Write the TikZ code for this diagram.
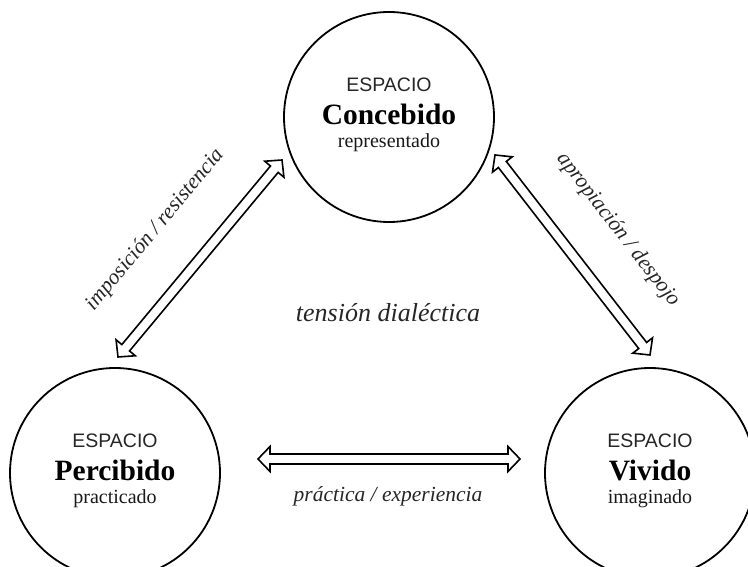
\documentclass[tikz,border=0pt]{standalone}
\usepackage{fontspec}
\setmainfont{Liberation Serif}
\setsansfont{Liberation Sans}
\usetikzlibrary{calc}
\tikzset{
  espacio/.style={circle, draw, line width=1.8pt, minimum size=210pt, inner sep=0pt},
  dblarr/.style={draw, fill=white, line width=1.6pt, line join=miter},
  kw/.style={font=\fontsize{19.5}{22}\selectfont\sffamily, text=black!85, anchor=base, inner sep=0pt},
  big/.style={font=\fontsize{29.5}{32}\selectfont\bfseries, anchor=base, inner sep=0pt},
  sub/.style={font=\fontsize{20}{22}\selectfont, text=black!90, anchor=base, inner sep=0pt},
  lbl/.style={font=\fontsize{21.5}{24}\selectfont\itshape, text=black!85, inner sep=0pt},
  mid/.style={font=\fontsize{26}{28}\selectfont\itshape, text=black!85, anchor=base, inner sep=0pt}
}
\newcommand\DblArrow[2]{%
 \draw[dblarr] (#1)
  -- ($(#1)!12pt!(#2)!12.5pt!90:(#2)$)
  -- ($(#1)!12pt!(#2)!5pt!90:(#2)$)
  -- ($(#2)!12pt!(#1)!5pt!-90:(#1)$)
  -- ($(#2)!12pt!(#1)!12.5pt!-90:(#1)$)
  -- (#2)
  -- ($(#2)!12pt!(#1)!12.5pt!90:(#1)$)
  -- ($(#2)!12pt!(#1)!5pt!90:(#1)$)
  -- ($(#1)!12pt!(#2)!5pt!-90:(#2)$)
  -- ($(#1)!12pt!(#2)!12.5pt!-90:(#2)$)
  -- cycle;}
\begin{document}
\begin{tikzpicture}[x=1pt,y=1pt]
\fill[white] (0,0) rectangle (748,567);
\useasboundingbox (0,0) rectangle (748,567);
\clip (0,0) rectangle (748,567);
% circles
\node[espacio] (C) at (389,450) {};
\node[espacio] (P) at (115,94) {};
\node[espacio] (V) at (650,94) {};
% texts
\node[kw]  (Ck) at ($(C.center)+(0,25)$) {ESPACIO};
\node[big] (Cb) at ($(C.center)+(0,-8)$) {Concebido};
\node[sub] (Cs) at ($(C.center)+(0,-31)$) {representado};
\node[kw]  (Pk) at ($(P.center)+(0,25)$) {ESPACIO};
\node[big] (Pb) at ($(P.center)+(0,-8)$) {Percibido};
\node[sub] (Ps) at ($(P.center)+(0,-31)$) {practicado};
\node[kw]  (Vk) at ($(V.center)+(0,25)$) {ESPACIO};
\node[big] (Vb) at ($(V.center)+(0,-8)$) {Vivido};
\node[sub] (Vs) at ($(V.center)+(0,-31)$) {imaginado};
% arrow end points
\coordinate (a1) at ($(C.center)+(-107,-43)$);
\coordinate (a2) at ($(P.center)+(3,116)$);
\coordinate (b1) at ($(C.center)+(106,-38)$);
\coordinate (b2) at ($(V.center)+(0,118)$);
\coordinate (c1) at ($(P.center)+(143,14)$);
\coordinate (c2) at ($(V.center)+(-130,14)$);
\DblArrow{a1}{a2}
\DblArrow{b1}{b2}
\DblArrow{c1}{c2}
% labels
\node[lbl, rotate=50.2] (la) at (155,337) {imposición / resistencia};
\node[lbl, rotate=-52.2] (lb) at (618,337) {apropiación / despojo};
\node[lbl, anchor=base] (lc) at (388,65) {práctica / experiencia};
\node[mid] (lm) at (388,245) {tensión dialéctica};
\end{tikzpicture}
\end{document}
